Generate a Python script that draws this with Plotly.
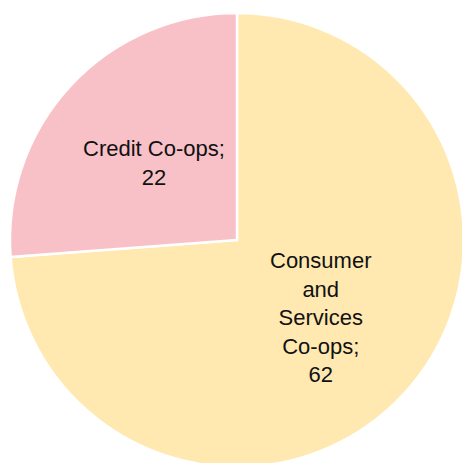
import math
import plotly.graph_objects as go

labels = ["Consumer and Services Co-ops", "Credit Co-ops"]
values = [62, 22]
label_text = ["Consumer<br>and<br>Services<br>Co-ops;<br>62", "Credit Co-ops;<br>22"]
colors = ["#FFE9B1", "#F8C1C7"]

W, H = 480, 480
cx, cy, r = 237, 240, 227

fig = go.Figure(go.Pie(
    labels=labels,
    values=values,
    textinfo="none",
    sort=False,
    direction="clockwise",
    rotation=0,
    marker=dict(colors=colors, line=dict(color="white", width=2.5)),
    hoverinfo="label+value",
    domain=dict(x=[(cx - r) / W, (cx + r) / W], y=[1 - (cy + r) / H, 1 - (cy - r) / H]),
))

# labels placed on each slice's bisector, half way out from the centre
total = sum(values)
start = 0.0
for v, t in zip(values, label_text):
    mid = (start + v / 2) / total * 2 * math.pi  # clockwise from 12 o'clock
    start += v
    px = cx + 0.5 * r * math.sin(mid)
    py = cy - 0.5 * r * math.cos(mid)
    fig.add_annotation(
        x=px / W, y=1 - py / H, xref="paper", yref="paper",
        text=t, showarrow=False, xanchor="center", yanchor="middle",
        font=dict(family="Liberation Sans", size=22, color="#111111"),
    )

fig.update_layout(
    width=W, height=H,
    margin=dict(l=0, r=0, t=0, b=0),
    showlegend=False,
    paper_bgcolor="white",
    plot_bgcolor="white",
)

fig.write_html("out.html", post_script="document.documentElement.style.overflow='hidden';document.body.style.overflow='hidden';document.body.style.margin='0';")
